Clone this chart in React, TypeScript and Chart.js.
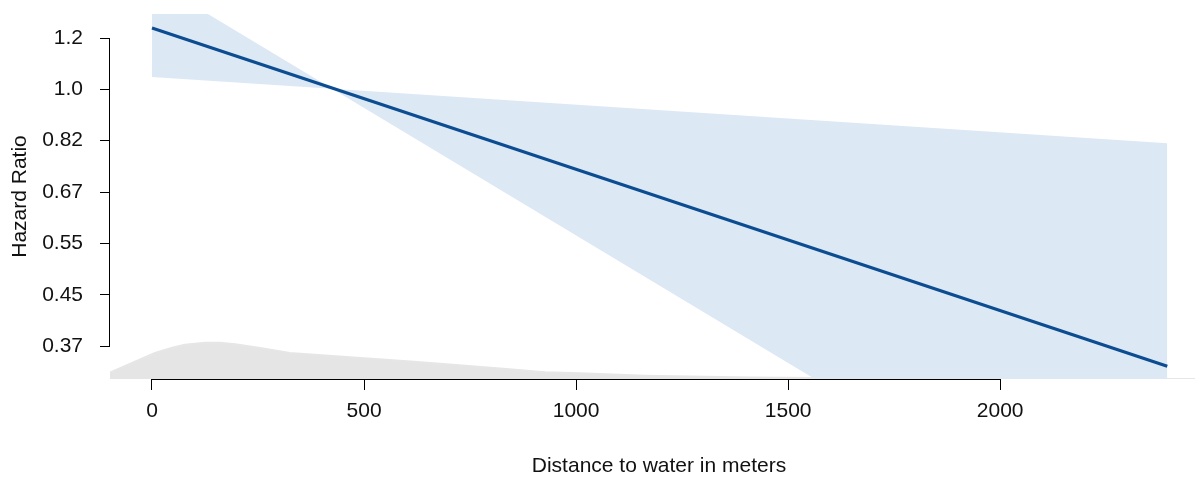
import React, { useEffect, useRef } from 'react';
import { Chart, registerables } from 'chart.js';

Chart.register(...registerables);

// Axis ticks
const xTicks = [0, 500, 1000, 1500, 2000];
const xTickLabels = ['0', '500', '1000', '1500', '2000'];
const yTicks = [0.3679, 0.4493, 0.5488, 0.6703, 0.8187, 1.0, 1.2214];
const yTickLabels = ['0.37', '0.45', '0.55', '0.67', '0.82', '1.0', '1.2'];

// Fitted hazard ratio (straight on log scale)
const distance = [0, 2394];
const hazardRatio = [1.27, 0.34];
// Confidence band boundaries
const ciSteep = [1.529, 0.1417];
const ciFlat = [1.049, 0.811];

// Density of observations (relative units)
const densityX = [-130, -99, 7, 50, 78, 125, 160, 196, 255, 325, 400, 467, 618, 679, 821, 927, 1009, 1163, 1410, 1646, 2000, 2394, 2490];
const densityY = [0.0, 0.175, 0.72, 0.87, 0.95, 1.0, 1.0, 0.96, 0.86, 0.72, 0.66, 0.6, 0.48, 0.42, 0.29, 0.19, 0.16, 0.09, 0.04, 0.02, 0.01, 0.0, 0.0];

const X_MIN = -99;
const X_MAX = 2490;
const Y_MIN = 0.3236;
const Y_MAX = 1.3411;

const FONT = { family: '"Liberation Sans", Arial, sans-serif', size: 21 };
const TEXT = '#111';

const pts = (xs: number[], ys: number[]) => xs.map((x, i) => ({ x, y: ys[i] }));

const axisLines = {
  id: 'axisLines',
  afterDraw(chart: any) {
    const { ctx, scales } = chart;
    const xs = scales.x;
    const ys = scales.y;
    ctx.save();
    ctx.strokeStyle = '#000';
    ctx.lineWidth = 1;
    ctx.beginPath();
    const yx = Math.round(ys.right) - 0.5;
    ctx.moveTo(yx, ys.getPixelForValue(yTicks[yTicks.length - 1]));
    ctx.lineTo(yx, ys.getPixelForValue(yTicks[0]));
    const xy = Math.round(xs.top) + 0.5;
    ctx.moveTo(xs.getPixelForValue(xTicks[0]), xy);
    ctx.lineTo(xs.getPixelForValue(xTicks[xTicks.length - 1]), xy);
    ctx.stroke();
    ctx.restore();
  },
};

export default function App() {
  const ref = useRef<HTMLCanvasElement | null>(null);
  useEffect(() => {
    if (!ref.current) return;
    const chart = new Chart(ref.current, {
      type: 'line',
      data: {
        datasets: [
          {
            label: 'Hazard ratio',
            data: pts(distance, hazardRatio),
            borderColor: '#0c4d91',
            borderWidth: 3.2,
            pointRadius: 0,
            fill: false,
            yAxisID: 'y',
          },
          {
            label: 'CI a',
            data: pts(distance, ciSteep),
            borderWidth: 0,
            pointRadius: 0,
            backgroundColor: '#dde8f5',
            fill: { target: '+1', above: '#dde8f5', below: '#dde8f5' },
            yAxisID: 'y',
          },
          {
            label: 'CI b',
            data: pts(distance, ciFlat),
            borderWidth: 0,
            pointRadius: 0,
            fill: false,
            yAxisID: 'y',
          },
          {
            label: 'Density',
            data: pts(densityX, densityY),
            borderColor: '#e6e6e6',
            borderWidth: 2,
            backgroundColor: '#e5e5e5',
            pointRadius: 0,
            fill: 'origin',
            yAxisID: 'yd',
          },
        ],
      },
      options: {
        animation: false,
        responsive: false,
        devicePixelRatio: 1,
        layout: { padding: { top: 14, left: 0, right: 0, bottom: 0 } },
        plugins: {
          legend: { display: false },
          tooltip: { enabled: false },
          filler: { drawTime: 'beforeDatasetDraw' },
        },
        scales: {
          x: {
            type: 'linear',
            min: X_MIN,
            max: X_MAX,
            bounds: 'data',
            afterBuildTicks: (s: any) => {
              s.ticks = xTicks.map((v) => ({ value: v }));
              s.min = X_MIN;
              s.max = X_MAX;
            },
            afterFit: (s: any) => {
              s.height = 106;
              s.paddingLeft = 0;
              s.paddingRight = 0;
            },
            ticks: {
              callback: (_v: any, i: number) => xTickLabels[i],
              font: FONT,
              color: TEXT,
              padding: 9,
              maxRotation: 0,
              autoSkip: false,
            },
            grid: { display: true, drawOnChartArea: false, drawTicks: true, tickLength: 11, color: '#000' },
            border: { display: false },
            title: {
              display: true,
              text: 'Distance to water in meters',
              font: FONT,
              color: TEXT,
              padding: { top: 0, bottom: 6 },
            },
          },
          y: {
            type: 'logarithmic',
            position: 'left',
            min: Y_MIN,
            max: Y_MAX,
            bounds: 'data',
            afterBuildTicks: (s: any) => {
              s.ticks = yTicks.map((v) => ({ value: v }));
              s.min = Y_MIN;
              s.max = Y_MAX;
            },
            afterFit: (s: any) => {
              s.width = 110;
              s.paddingTop = 0;
              s.paddingBottom = 0;
            },
            ticks: {
              callback: (_v: any, i: number) => yTickLabels[i],
              font: FONT,
              color: TEXT,
              padding: 17,
              autoSkip: false,
            },
            grid: { display: true, drawOnChartArea: false, drawTicks: true, tickLength: 10, color: '#000' },
            border: { display: false },
            title: {
              display: true,
              text: 'Hazard Ratio',
              font: FONT,
              color: TEXT,
              padding: { top: 8, bottom: 0 },
            },
          },
          yd: {
            type: 'linear',
            display: false,
            min: 0,
            max: 10.1,
          },
        },
      },
      plugins: [axisLines],
    } as any);
    return () => chart.destroy();
  }, []);

  return (
    <div
      style={{
        position: 'absolute',
        left: 0,
        top: 0,
        width: 1195,
        height: 485,
        overflow: 'hidden',
        background: '#fff',
      }}
    >
      <canvas ref={ref} width={1208} height={485} style={{ display: 'block' }} />
    </div>
  );
}
